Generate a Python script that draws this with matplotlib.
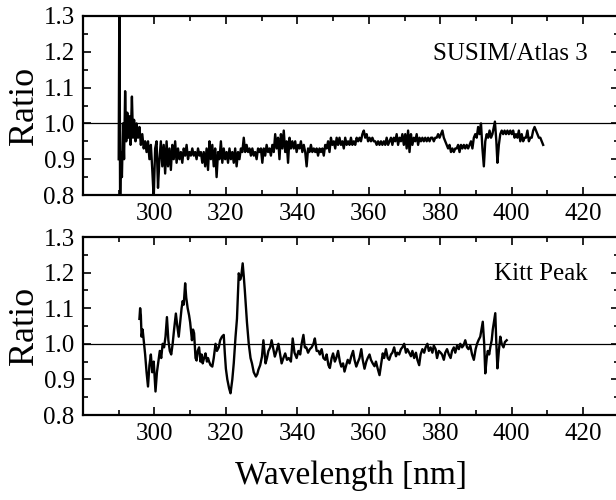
"""
Ratio spectra: SUSIM/Atlas 3 and Kitt Peak
"""

import matplotlib
matplotlib.use('Agg')
import matplotlib.pyplot as plt
from matplotlib.ticker import MultipleLocator, FormatStrFormatter

plt.rcParams['font.family'] = ['Liberation Serif', 'DejaVu Serif']

# SUSIM / Atlas 3 ratio
susim_wl = [
    290.0, 290.2, 290.4, 290.6, 290.9, 291.2, 291.5, 291.8, 292.1, 292.4,
    292.7, 293.0, 293.3, 293.7, 294.0, 294.3, 294.7, 295.0, 295.4, 295.8,
    296.2, 296.6, 297.0, 297.4, 297.8, 298.2, 298.6, 299.0, 299.4, 299.8,
    300.2, 300.6, 301.0, 301.4, 301.8, 302.2, 302.6, 303.0, 303.4, 303.8,
    304.2, 304.6, 305.0, 305.4, 305.8, 306.2, 306.6, 307.0, 307.4, 307.8,
    308.2, 308.6, 309.0, 309.4, 309.8, 310.2, 310.6, 311.0, 311.4, 311.8,
    312.2, 312.6, 313.0, 313.4, 313.8, 314.2, 314.6, 315.0, 315.4, 315.8,
    316.2, 316.6, 317.0, 317.4, 317.8, 318.2, 318.6, 319.0, 319.4, 319.8,
    320.2, 320.6, 321.0, 321.4, 321.8, 322.2, 322.6, 323.0, 323.4, 323.8,
    324.2, 324.6, 325.0, 325.4, 325.8, 326.2, 326.6, 327.0, 327.4, 327.8,
    328.2, 328.6, 329.0, 329.4, 329.8, 330.2, 330.6, 331.0, 331.4, 331.8,
    332.2, 332.6, 333.0, 333.4, 333.8, 334.2, 334.6, 335.0, 335.4, 335.8,
    336.2, 336.6, 337.0, 337.4, 337.8, 338.2, 338.6, 339.0, 339.4, 339.8,
    340.2, 340.6, 341.0, 341.4, 341.8, 342.2, 342.6, 343.0, 343.4, 343.8,
    344.2, 344.6, 345.0, 345.4, 345.8, 346.2, 346.6, 347.0, 347.4, 347.8,
    348.2, 348.6, 349.0, 349.4, 349.8, 350.2, 350.6, 351.0, 351.4, 351.8,
    352.2, 352.6, 353.0, 353.4, 353.8, 354.2, 354.6, 355.0, 355.4, 355.8,
    356.2, 356.6, 357.0, 357.4, 357.8, 358.2, 358.6, 359.0, 359.4, 359.8,
    360.2, 360.6, 361.0, 361.4, 361.8, 362.2, 362.6, 363.0, 363.4, 363.8,
    364.2, 364.6, 365.0, 365.4, 365.8, 366.2, 366.6, 367.0, 367.4, 367.8,
    368.2, 368.6, 369.0, 369.4, 369.8, 370.2, 370.6, 371.0, 371.4, 371.8,
    372.2, 372.6, 373.0, 373.4, 373.8, 374.2, 374.6, 375.0, 375.4, 375.8,
    376.2, 376.6, 377.0, 377.4, 377.8, 378.2, 378.6, 379.0, 379.4, 379.8,
    380.2, 380.6, 381.0, 381.4, 381.8, 382.2, 382.6, 383.0, 383.4, 383.8,
    384.2, 384.6, 385.0, 385.4, 385.8, 386.2, 386.6, 387.0, 387.4, 387.8,
    388.2, 388.6, 389.0, 389.4, 389.8, 390.2, 390.6, 391.0, 391.4, 391.8,
    392.2, 392.6, 393.0, 393.4, 393.8, 394.2, 394.6, 395.0, 395.3, 395.7,
    396.0, 396.4, 396.8, 397.2, 397.6, 398.0, 398.4, 398.8, 399.2, 399.6,
    400.0, 400.4, 400.8, 401.2, 401.6, 402.0, 402.4, 402.8, 403.2, 403.6,
    404.0, 404.4, 404.8, 405.2, 405.6, 406.0, 406.4, 406.8, 407.2, 407.6,
    408.0, 408.4, 408.8,
]
susim_ratio = [
    0.90, 1.40, 0.75, 0.92, 0.85, 1.00, 0.90, 1.09, 0.95, 1.03,
    0.96, 1.02, 0.94, 1.075, 0.96, 1.01, 0.95, 1.00, 0.96, 0.99,
    0.94, 0.97, 0.93, 0.95, 0.92, 0.95, 0.90, 0.94, 0.87, 0.79,
    0.93, 0.95, 0.82, 0.90, 0.95, 0.88, 0.94, 0.86, 0.95, 0.88,
    0.93, 0.87, 0.94, 0.90, 0.95, 0.89, 0.93, 0.90, 0.92, 0.89,
    0.93, 0.91, 0.94, 0.90, 0.92, 0.91, 0.93, 0.91, 0.92, 0.90,
    0.93, 0.91, 0.92, 0.89, 0.92, 0.88, 0.93, 0.87, 0.95, 0.90,
    0.94, 0.88, 0.93, 0.85, 0.92, 0.90, 0.95, 0.89, 0.93, 0.90,
    0.92, 0.89, 0.93, 0.90, 0.92, 0.89, 0.93, 0.88, 0.92, 0.90,
    0.93, 0.92, 0.96, 0.92, 0.94, 0.92, 0.93, 0.91, 0.93, 0.91,
    0.92, 0.90, 0.93, 0.92, 0.93, 0.89, 0.93, 0.91, 0.94, 0.92,
    0.93, 0.91, 0.94, 0.92, 0.97, 0.93, 0.96, 0.90, 0.97, 0.93,
    0.98, 0.92, 0.95, 0.89, 0.96, 0.93, 0.95, 0.93, 0.95, 0.92,
    0.94, 0.93, 0.95, 0.92, 0.94, 0.92, 0.88, 0.93, 0.92, 0.94,
    0.92, 0.93, 0.92, 0.93, 0.91, 0.93, 0.92, 0.93, 0.91, 0.94,
    0.93, 0.95, 0.92, 0.96, 0.94, 0.95, 0.93, 0.96, 0.94, 0.96,
    0.94, 0.95, 0.93, 0.96, 0.94, 0.95, 0.94, 0.96, 0.94, 0.95,
    0.94, 0.96, 0.95, 0.96, 0.95, 0.97, 0.98, 0.96, 0.97, 0.95,
    0.96, 0.95, 0.96, 0.95, 0.95, 0.94, 0.95, 0.94, 0.95, 0.94,
    0.95, 0.94, 0.96, 0.94, 0.95, 0.96, 0.94, 0.96, 0.95, 0.97,
    0.94, 0.96, 0.95, 0.97, 0.94, 0.97, 0.93, 0.98, 0.92, 0.97,
    0.94, 0.96, 0.95, 0.97, 0.94, 0.96, 0.95, 0.96, 0.95, 0.96,
    0.95, 0.96, 0.95, 0.96, 0.96, 0.95, 0.96, 0.96, 0.97, 0.96,
    0.97, 0.98, 0.96, 0.95, 0.94, 0.93, 0.94, 0.92, 0.93, 0.92,
    0.93, 0.93, 0.94, 0.92, 0.94, 0.93, 0.94, 0.93, 0.94, 0.93,
    0.94, 0.95, 0.93, 0.96, 0.97, 0.96, 0.99, 0.97, 1.00, 0.93,
    0.88, 0.95, 0.97, 0.96, 0.98, 0.96, 0.97, 0.99, 1.005, 0.95,
    0.89, 0.94, 0.97, 0.98, 0.97, 0.98, 0.97, 0.98, 0.97, 0.98,
    0.97, 0.98, 0.96, 0.97, 0.96, 0.98, 0.95, 0.97, 0.95, 0.96,
    0.96, 0.98, 0.95, 0.96, 0.96, 0.98, 0.99, 0.98, 0.97, 0.96,
    0.96, 0.95, 0.94,
]

# Kitt Peak ratio
kitt_wl = [
    295.8, 296.0, 296.2, 296.4, 296.7, 297.0, 297.4, 297.8, 298.2, 298.6,
    299.0, 299.4, 299.8, 300.3, 300.7, 301.1, 301.5, 301.9, 302.3, 302.7,
    303.1, 303.5, 303.9, 304.3, 304.7, 305.1, 305.5, 306.0, 306.4, 306.8,
    307.2, 307.6, 307.9, 308.2, 308.6, 308.9, 309.3, 309.7, 310.0, 310.3,
    310.5, 310.8, 311.1, 311.5, 311.8, 312.1, 312.5, 312.9, 313.2, 313.5,
    313.9, 314.3, 314.7, 315.0, 315.3, 315.7, 316.2, 316.6, 317.1, 317.5,
    318.0, 318.4, 318.9, 319.4, 319.7, 320.0, 320.4, 320.9, 321.3, 321.8,
    322.2, 322.7, 323.1, 323.6, 324.0, 324.3, 324.7, 325.0, 325.3, 325.9,
    326.4, 326.9, 327.3, 327.8, 328.4, 328.8, 329.1, 329.6, 330.1, 330.5,
    331.1, 331.5, 331.9, 332.4, 332.8, 333.2, 333.7, 334.2, 334.7, 335.1,
    335.6, 336.1, 336.6, 337.1, 337.6, 338.2, 338.7, 339.2, 339.8, 340.3,
    340.8, 341.2, 341.7, 342.1, 342.5, 343.0, 343.5, 344.0, 344.5, 344.9,
    345.4, 345.9, 346.3, 346.8, 347.3, 347.8, 348.2, 348.7, 349.1, 349.6,
    350.0, 350.5, 350.9, 351.4, 351.9, 352.3, 352.8, 353.2, 353.7, 354.1,
    354.6, 355.1, 355.6, 356.0, 356.5, 357.0, 357.4, 357.9, 358.3, 358.8,
    359.3, 359.7, 360.2, 360.6, 361.1, 361.6, 362.0, 362.5, 363.0, 363.4,
    363.9, 364.3, 364.8, 365.3, 365.7, 366.2, 366.6, 367.1, 367.6, 368.0,
    368.5, 369.0, 369.4, 369.9, 370.4, 370.8, 371.3, 371.8, 372.2, 372.7,
    373.2, 373.6, 374.1, 374.5, 375.0, 375.5, 375.9, 376.4, 376.8, 377.3,
    377.8, 378.2, 378.7, 379.1, 379.6, 380.1, 380.5, 381.0, 381.4, 381.9,
    382.4, 382.9, 383.3, 383.8, 384.2, 384.7, 385.2, 385.6, 386.1, 386.5,
    387.0, 387.5, 387.9, 388.4, 388.9, 389.4, 389.9, 390.3, 390.7, 391.2,
    391.9, 392.3, 392.6, 393.0, 393.3, 393.7, 394.0, 394.4, 394.7, 395.0,
    395.4, 395.7, 396.0, 396.4, 396.8, 397.2, 397.7, 398.1, 398.6,
]
kitt_ratio = [
    1.07, 1.10, 1.08, 1.02, 1.04, 1.01, 0.97, 0.92, 0.88, 0.94,
    0.97, 0.92, 0.95, 0.866, 0.92, 0.95, 0.98, 0.96, 1.00, 0.99,
    1.02, 1.075, 1.01, 0.98, 0.97, 1.00, 1.04, 1.085, 1.05, 1.02,
    1.06, 1.10, 1.12, 1.11, 1.17, 1.13, 1.10, 1.08, 1.06, 1.03,
    1.01, 1.04, 1.03, 0.96, 0.953, 0.98, 0.99, 0.95, 0.97, 0.945,
    0.96, 0.973, 0.95, 0.96, 0.95, 0.94, 0.936, 0.96, 1.00, 0.98,
    0.99, 1.01, 1.02, 1.025, 0.973, 0.93, 0.90, 0.875, 0.861, 0.90,
    0.945, 1.02, 1.07, 1.198, 1.18, 1.19, 1.226, 1.19, 1.15, 1.06,
    1.00, 0.96, 0.945, 0.92, 0.908, 0.915, 0.927, 0.94, 0.964, 1.01,
    0.945, 0.96, 0.98, 0.99, 1.01, 0.99, 0.964, 0.98, 1.00, 0.975,
    0.945, 0.96, 0.973, 0.955, 0.96, 0.95, 1.015, 0.975, 0.96, 0.98,
    0.97, 1.00, 1.025, 0.99, 0.99, 0.975, 0.985, 0.99, 1.00, 1.015,
    0.98, 0.98, 0.97, 0.985, 0.96, 0.955, 0.97, 0.94, 0.932, 0.96,
    0.973, 0.95, 0.96, 0.98, 0.95, 0.936, 0.945, 0.922, 0.94, 0.955,
    0.945, 0.965, 0.98, 0.955, 0.936, 0.95, 0.96, 0.985, 0.955, 0.93,
    0.95, 0.96, 0.97, 0.955, 0.945, 0.937, 0.95, 0.93, 0.912, 0.94,
    0.973, 0.96, 0.985, 0.96, 0.955, 0.97, 0.975, 0.99, 0.965, 0.975,
    0.97, 0.985, 0.99, 1.00, 0.975, 0.985, 0.975, 0.965, 0.98, 0.96,
    0.975, 0.955, 0.94, 0.97, 0.985, 0.975, 0.99, 1.00, 0.98, 0.99,
    0.975, 0.995, 0.985, 0.96, 0.98, 0.975, 0.97, 0.955, 0.975, 0.985,
    0.97, 0.96, 0.98, 0.99, 0.975, 0.995, 0.985, 1.00, 0.99, 0.995,
    1.01, 0.99, 0.985, 0.995, 0.97, 0.955, 0.985, 1.00, 1.01, 1.02,
    1.062, 1.00, 0.917, 0.96, 0.98, 0.97, 0.99, 1.01, 1.04, 1.06,
    1.086, 1.00, 0.931, 0.98, 1.02, 1.00, 0.99, 1.005, 1.01,
]

x_ticks = [300, 320, 340, 360, 380, 400, 420]
y_ticks = [0.8, 0.9, 1.0, 1.1, 1.2, 1.3]

fig = plt.figure(figsize=(6.16, 5.0), dpi=100)
ax_top = fig.add_axes([0.1347, 0.610, 0.870, 0.358])
ax_bot = fig.add_axes([0.1347, 0.170, 0.870, 0.356])

panels = [
    (ax_top, susim_wl, susim_ratio, 'SUSIM/Atlas 3'),
    (ax_bot, kitt_wl, kitt_ratio, 'Kitt Peak'),
]

for ax, wl, ratio, name in panels:
    ax.axhline(1.0, color='black', linewidth=0.9, zorder=1)
    ax.plot(wl, ratio, color='black', linewidth=1.7, zorder=2)
    ax.set_xlim(280, 430)
    ax.set_ylim(0.8, 1.3)
    ax.set_xticks(x_ticks)
    ax.set_yticks(y_ticks)
    ax.xaxis.set_minor_locator(MultipleLocator(10))
    ax.yaxis.set_minor_locator(MultipleLocator(0.05))
    ax.yaxis.set_major_formatter(FormatStrFormatter('%.1f'))
    ax.tick_params(which='both', direction='in', top=True, right=True,
                   width=1.2, labelsize=18, pad=6)
    ax.tick_params(which='major', length=5.5)
    ax.tick_params(which='minor', length=3.5)
    for spine in ax.spines.values():
        spine.set_linewidth(1.6)
    ax.set_ylabel('Ratio', fontsize=26, labelpad=2)
    ax.text(0.942, 0.79, name, transform=ax.transAxes, ha='right',
            va='center', fontsize=18)

fig.text(0.569, 0.048, 'Wavelength [nm]', ha='center', va='center',
         fontsize=24)

fig.savefig('out.png', dpi=100)
